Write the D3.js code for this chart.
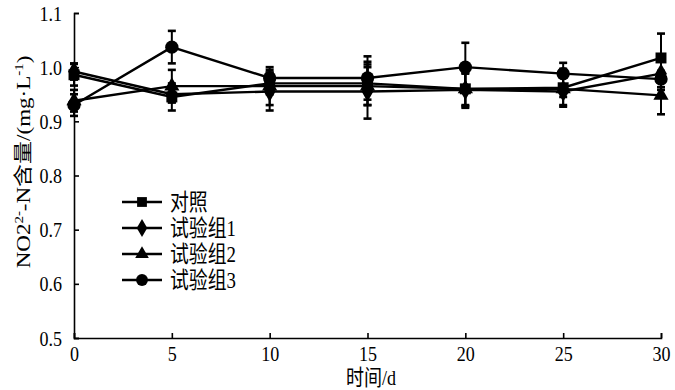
<!DOCTYPE html>
<html><head><meta charset="utf-8">
<script src="https://cdn.jsdelivr.net/npm/d3@7"></script>
<style>body{margin:0;background:#fff}svg{display:block}</style>
</head><body>
<svg id="c" width="675" height="390"></svg>
<script>
const days = [0, 5, 10, 15, 20, 25, 30];
const seriesNames = ["对照", "试验组1", "试验组2", "试验组3"];
const ctrl = [0.986, 0.945, 0.970, 0.970, 0.960, 0.962, 1.017];
const g1   = [0.992, 0.950, 0.955, 0.955, 0.958, 0.955, 0.988];
const g2   = [0.938, 0.965, 0.965, 0.965, 0.960, 0.960, 0.948];
const g3   = [0.930, 1.037, 0.980, 0.980, 1.000, 0.988, 0.978];
const errCtrl = [0.020, 0.025, 0.020, 0.040, 0.035, 0.035, 0.045];
const err1    = [0.015, 0.015, 0.035, 0.050, 0.030, 0.010, 0.030];
const err2    = [0.020, 0.030, 0.035, 0.035, 0.030, 0.030, 0.035];
const err3    = [0.020, 0.030, 0.015, 0.040, 0.045, 0.020, 0.015];
const yTicks = [0.5, 0.6, 0.7, 0.8, 0.9, 1.0, 1.1];
const xTicks = [0, 5, 10, 15, 20, 25, 30];

const svg = d3.select("#c");
const L = 74, R = 661, T = 13, B = 338;
const SX = 0.82; // horizontal squeeze of the text
const x = d3.scaleLinear().domain([0, 30]).range([L, R]);
const y = d3.scaleLinear().domain([0.5, 1.1]).range([B, T]);
const font = "'Liberation Serif','Times New Roman','Noto Sans CJK SC',serif";

// axes
const xa = svg.append("g").attr("transform", `translate(0,${B})`)
  .call(d3.axisBottom(x).tickValues(xTicks).tickSize(-5).tickPadding(10).tickFormat(d3.format("d")));
const ya = svg.append("g").attr("transform", `translate(${L},0)`)
  .call(d3.axisLeft(y).tickValues(yTicks).tickSize(-5).tickPadding(12 / SX).tickFormat(d3.format(".1f")));
[xa, ya].forEach(a => {
  a.select(".domain").attr("stroke", "#000").attr("stroke-width", 1.6);
  a.selectAll(".tick line").attr("stroke", "#000").attr("stroke-width", 1.6);
  a.selectAll(".tick text").attr("font-family", font).attr("font-size", 22).attr("fill", "#000")
    .attr("transform", `scale(${SX},1)`);
});
xa.selectAll(".tick text").attr("dy", "0.6em");

// axis titles
svg.append("text").attr("transform", `translate(371,385) scale(${SX},1)`).attr("text-anchor", "middle")
  .attr("font-family", font).attr("font-size", 22).text("时间/d");
const yl = svg.append("text").attr("transform", `translate(30,162) scale(${SX},1) rotate(-90)`)
  .attr("text-anchor", "middle").attr("font-family", font).attr("font-size", 23);
yl.append("tspan").text("NO2");
yl.append("tspan").attr("font-size", 15).attr("dy", -8).text("2-");
yl.append("tspan").attr("dy", 8).text("-N含量/(mg·L");
yl.append("tspan").attr("font-size", 15).attr("dy", -8).text("-1");
yl.append("tspan").attr("dy", 8).text(")");

const data = [ctrl, g1, g2, g3];
const errs = [errCtrl, err1, err2, err3];
const symbols = [d3.symbolSquare, d3.symbolDiamond, d3.symbolTriangle, d3.symbolCircle];
const sizes = [120, 120, 100, 140];

const line = d3.line().x((d, i) => x(days[i])).y(d => y(d));
data.forEach(s => {
  svg.append("path").datum(s).attr("d", line).attr("fill", "none")
    .attr("stroke", "#000").attr("stroke-width", 2.4);
});
data.forEach((s, k) => {
  const g = svg.append("g").attr("stroke", "#000").attr("stroke-width", 2);
  s.forEach((v, i) => {
    const cx = x(days[i]), e = errs[k][i];
    g.append("line").attr("x1", cx).attr("x2", cx).attr("y1", y(v + e)).attr("y2", y(v - e));
    g.append("line").attr("x1", cx - 4).attr("x2", cx + 4).attr("y1", y(v + e)).attr("y2", y(v + e)).attr("stroke-width", 2.6);
    g.append("line").attr("x1", cx - 4).attr("x2", cx + 4).attr("y1", y(v - e)).attr("y2", y(v - e)).attr("stroke-width", 2.6);
  });
});
data.forEach((s, k) => {
  svg.append("g").selectAll("path").data(s).join("path")
    .attr("transform", (d, i) => `translate(${x(days[i])},${y(d)})`)
    .attr("d", d3.symbol().type(symbols[k]).size(sizes[k])).attr("fill", "#000");
});

// legend
const lg = svg.append("g");
seriesNames.forEach((n, k) => {
  const yy = 202 + k * 26;
  lg.append("line").attr("x1", 122).attr("x2", 162).attr("y1", yy).attr("y2", yy)
    .attr("stroke", "#000").attr("stroke-width", 2.4);
  lg.append("path").attr("transform", `translate(142,${yy})`)
    .attr("d", d3.symbol().type(symbols[k]).size(sizes[k] * 0.8)).attr("fill", "#000");
  lg.append("text").attr("transform", `translate(170,${yy}) scale(${SX},1)`).attr("dy", "0.35em")
    .attr("font-family", font).attr("font-size", 23).text(n);
});
</script>
</body></html>
